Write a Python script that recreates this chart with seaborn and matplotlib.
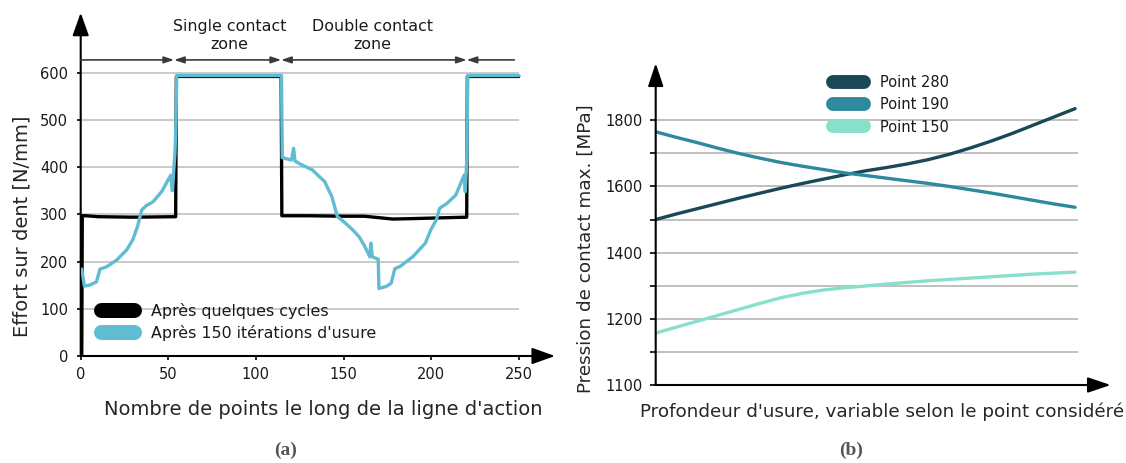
import matplotlib
matplotlib.use("Agg")
import matplotlib.pyplot as plt
import seaborn as sns
from matplotlib.lines import Line2D

# ---------------- (a) load along the line of action ----------------
pts_cycles = [0.6, 0.9, 3, 10, 30, 54.2, 54.6, 114.4, 114.8, 130, 150, 162,
              170, 178, 190, 210, 220.3, 220.7, 250]
eff_cycles = [0, 297, 297, 295, 294, 295, 592, 592, 297, 297, 296, 296,
              293, 290, 291, 293, 294, 592, 592]

pts_usure = [0.6, 2.1, 5, 9, 11, 14.8, 20.5, 26.3, 29.7, 32.5,
             34.8, 37.3, 41.4, 46.2, 51.4, 52.3, 53.8, 54.4, 54.8, 114.6,
             115.0, 116.2, 120.3, 121.5, 122.3, 125, 132.2, 139.3, 143.4, 146.5,
             150, 155, 159, 162, 165, 165.6, 166.4, 169.8, 170.2, 174.2,
             177.2, 179.3, 182.4, 189.5, 196.7, 199.8, 202.9, 204.9, 209, 214.1,
             218.8, 219.5, 220.4, 220.9, 250]
eff_usure = [184, 148, 150, 157, 184, 189, 203, 225, 246, 275,
             309, 318, 327, 348, 383, 350, 429, 500, 594, 594,
             420, 419, 415, 440, 413, 407, 394, 369, 337, 295,
             285, 268, 252, 233, 210, 239, 210, 205, 143, 147,
             154, 185, 190, 210, 239, 267, 288, 313, 323, 341,
             383, 348, 420, 594, 594]

label_cycles = "Après quelques cycles"
label_usure = "Après 150 itérations d'usure"

zone_bounds = [0, 53.3, 114.4, 220.3, 247.5]
zone_labels = ["Single contact\nzone", "Double contact\nzone"]
zone_label_x = [85, 166.5]

a_xticks = [0, 50, 100, 150, 200, 250]
a_yticks = [0, 100, 200, 300, 400, 500, 600]

# ---------------- (b) max contact pressure vs wear depth ----------------
depth = [0, 0.05, 0.1, 0.15, 0.2, 0.25, 0.3, 0.35, 0.4, 0.45, 0.5,
         0.55, 0.6, 0.65, 0.7, 0.75, 0.8, 0.85, 0.9, 0.95, 1.0]
p280 = [1500, 1517, 1533, 1549, 1565, 1580, 1595, 1609, 1622, 1635, 1647,
        1657, 1668, 1681, 1697, 1716, 1737, 1760, 1785, 1810, 1835]
p190 = [1765, 1748, 1732, 1715, 1699, 1685, 1672, 1661, 1651, 1641, 1633,
        1625, 1617, 1609, 1600, 1590, 1580, 1569, 1558, 1547, 1537]
p150 = [1157, 1175, 1193, 1211, 1229, 1247, 1264, 1277, 1287, 1294, 1299,
        1305, 1310, 1315, 1319, 1323, 1327, 1331, 1335, 1338, 1341]
b_names = ["Point 280", "Point 190", "Point 150"]
b_colors = ["#1b4856", "#2e899f", "#88e0cc"]

b_major = [1000, 1200, 1400, 1600, 1800]
b_major_labels = ["1100", "1200", "1400", "1600", "1800"]
b_minor = [1100, 1300, 1500, 1700]

sns.set_theme(style="white")
plt.rcParams["font.family"] = ["DejaVu Sans"]
plt.rcParams["text.color"] = "#1a1a1a"

fig = plt.figure(figsize=(11.26, 4.63), dpi=100)
W, H = 1126, 463
axa = fig.add_axes([80.7 / W, 1 - 356 / H, 474.3 / W, 343.3 / H])
axb = fig.add_axes([655.7 / W, 1 - 385 / H, 455 / W, 321.7 / H])


def arrow_axes(ax, hl=14, hw=5):
    kw = dict(arrowstyle=f"-|>,head_length={hl},head_width={hw}",
              mutation_scale=1, lw=1.5, color="black", shrinkA=0, shrinkB=0)
    ax.annotate("", xy=(0, 1), xytext=(0, 0), xycoords="axes fraction",
                arrowprops=kw, annotation_clip=False)
    ax.annotate("", xy=(1, 0), xytext=(0, 0), xycoords="axes fraction",
                arrowprops=kw, annotation_clip=False)
    for s in ax.spines.values():
        s.set_visible(False)


# ---------- panel (a) ----------
axa.hlines(a_yticks[1:], 0, 250, color="#bcbcbc", lw=1.1, zorder=0)
sns.lineplot(x=pts_cycles, y=eff_cycles, ax=axa, color="black", lw=2.4,
             sort=False, estimator=None, legend=False, zorder=3)
sns.lineplot(x=pts_usure, y=eff_usure, ax=axa, color="#5fbcd3", lw=2.4,
             sort=False, estimator=None, legend=False, zorder=4)
axa.set_xlim(0, 270.7)
axa.set_ylim(0, 727)
axa.set_xticks(a_xticks)
axa.set_yticks(a_yticks)
axa.tick_params(axis="both", direction="out", length=3, width=1.2,
                color="black", labelsize=10.5, labelcolor="#1a1a1a",
                bottom=True, left=True)
axa.tick_params(axis="x", pad=5)
axa.tick_params(axis="y", pad=6)
axa.set_xlabel("Nombre de points le long de la ligne d'action", fontsize=14)
axa.xaxis.set_label_coords(0.511, -0.157)
axa.xaxis.label.set_va("center")
axa.set_ylabel("Effort sur dent [N/mm]", fontsize=14)
axa.yaxis.set_label_coords(-0.124, 0.378)
axa.yaxis.label.set_va("center")
arrow_axes(axa)

# contact zone dimension arrows
zone_y = 627
styles = ["-|>", "<|-|>", "<|-|>", "<|-"]
for (x0, x1), st in zip(zip(zone_bounds[:-1], zone_bounds[1:]), styles):
    axa.annotate("", xy=(x1, zone_y), xytext=(x0, zone_y),
                 arrowprops=dict(arrowstyle=f"{st},head_length=6,head_width=2",
                                 mutation_scale=1, lw=1.2, color="#3a3a3a",
                                 shrinkA=0, shrinkB=0),
                 annotation_clip=False)
for lx, txt in zip(zone_label_x, zone_labels):
    axa.text(lx, 679, txt, ha="center", va="center", fontsize=11.4,
             linespacing=1.3)

handles_a = [Line2D([], [], color="black", lw=10.8, solid_capstyle="round"),
             Line2D([], [], color="#5fbcd3", lw=10.8, solid_capstyle="round")]
fig.legend(handles_a, [label_cycles, label_usure], loc="upper left",
           bbox_to_anchor=(100.5 / W, 1 - 303 / H), frameon=False,
           fontsize=11.4, handlelength=2.1, handletextpad=1.1,
           borderpad=0, borderaxespad=0, labelspacing=0.35)

# ---------- panel (b) ----------
axb.hlines(b_major[1:] + b_minor, 0, 1.007, color="#b5b5b5", lw=1.2, zorder=0)
for vals, name, col in zip([p280, p190, p150], b_names, b_colors):
    sns.lineplot(x=depth, y=vals, ax=axb, color=col, lw=2.4, sort=False,
                 estimator=None, legend=False, zorder=3)
axb.set_xlim(0, 1.085)
axb.set_ylim(1000, 1972)
axb.set_xticks([])
axb.set_yticks(b_major)
axb.set_yticklabels(b_major_labels)
axb.set_yticks(b_minor, minor=True)
axb.tick_params(axis="y", which="both", direction="out", length=4.5,
                width=1.2, color="black", labelsize=10.5,
                labelcolor="#1a1a1a", left=True, pad=5)
axb.set_xlabel("Profondeur d'usure, variable selon le point considéré",
               fontsize=13.2)
axb.xaxis.set_label_coords(0.498, -0.083)
axb.xaxis.label.set_va("center")
axb.set_ylabel("Pression de contact max. [MPa]", fontsize=13.2)
axb.yaxis.set_label_coords(-0.153, 0.425)
axb.yaxis.label.set_va("center")
arrow_axes(axb, hl=14, hw=4.7)

handles_b = [Line2D([], [], color=c, lw=10, solid_capstyle="round")
             for c in b_colors]
fig.legend(handles_b, b_names, loc="upper left",
           bbox_to_anchor=(833 / W, 1 - 75 / H), frameon=False,
           fontsize=10.5, handlelength=2.1, handletextpad=1.15,
           borderpad=0, borderaxespad=0, labelspacing=0.5)

# sub-figure captions
for cx, cap in [(286, "(a)"), (851, "(b)")]:
    fig.text(cx / W, 1 - 450 / H, cap, ha="center", va="center",
             fontsize=14, fontweight="bold", family="Liberation Serif",
             color="#555555")

fig.savefig("out.png", dpi=100)
